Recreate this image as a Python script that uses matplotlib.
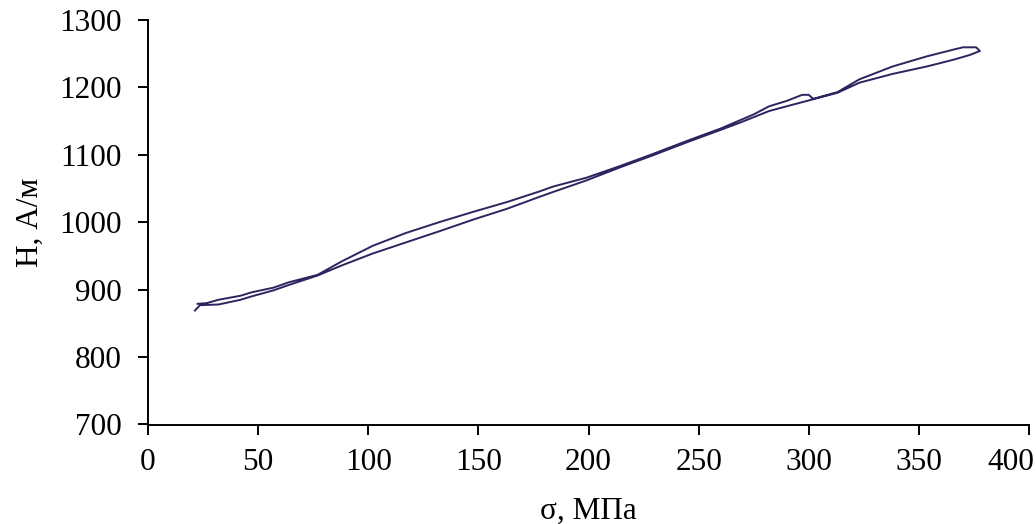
import matplotlib
matplotlib.use("Agg")
import matplotlib.pyplot as plt
from matplotlib.transforms import offset_copy

# Loading branch (sigma, MPa ; H, A/m)
sigma_load = [21.3, 23.6, 32, 42, 47, 57, 64, 77, 88, 102, 117, 132.6, 147.7, 163, 178,
              184, 199, 214, 229, 245, 260, 269, 282, 290, 301.5, 313, 323, 338, 353.5,
              365.6, 373, 377.7]
H_load = [869, 877, 878, 885, 890, 899, 907, 921, 936, 953.6, 970, 987, 1004, 1020, 1038,
          1045, 1062, 1081, 1099, 1119, 1137, 1148, 1165, 1172, 1182, 1192, 1207, 1220, 1231,
          1241, 1248, 1254]

# Unloading branch
sigma_unload = [377.7, 376, 370, 365.6, 353.5, 338, 323, 313, 302, 300, 297, 290, 282, 275,
                260, 245, 229, 214, 199, 184, 178, 163, 147.7, 132.6, 117, 102, 88, 77, 64,
                57, 47, 42, 32, 26.6, 22.5]
H_unload = [1254, 1259.5, 1259.5, 1256, 1246, 1231, 1212, 1193, 1183, 1189, 1189, 1180, 1172,
            1160, 1139, 1121, 1101, 1083, 1066, 1053, 1046, 1030, 1015.5, 1000.5, 984, 965,
            942, 922, 911, 903, 896, 891, 885, 880, 879]

x_ticks = [0, 50, 100, 150, 200, 250, 300, 350, 400]
y_ticks = [700, 800, 900, 1000, 1100, 1200, 1300]

plt.rcParams['font.family'] = ['Liberation Serif', 'DejaVu Serif']

fig = plt.figure(figsize=(10.36, 5.24), dpi=100)
ax = fig.add_axes([148 / 1036, 1 - 424.5 / 524, (1029 - 148) / 1036, (424.5 - 20) / 524])

line_color = '#2f2360'
ax.plot(sigma_load + sigma_unload, H_load + H_unload, color=line_color, lw=1.4,
        solid_joinstyle='round')

ax.set_xlim(0, 400)
ax.set_ylim(700, 1300)
ax.set_xticks(x_ticks)
ax.set_yticks(y_ticks)
ax.spines['top'].set_visible(False)
ax.spines['right'].set_visible(False)
for s in ('left', 'bottom'):
    ax.spines[s].set_linewidth(1.4)
    ax.spines[s].set_color('black')
ax.tick_params(axis='both', direction='out', length=7, width=1.4, labelsize=22.5,
               colors='black')
ax.tick_params(axis='y', pad=12)
ax.tick_params(axis='x', pad=10)

ax.set_ylabel('H, А/м', fontsize=22.5, labelpad=10)
ax.set_xlabel('σ, МПа', fontsize=22.5, labelpad=14)

fig.canvas.draw()
last = ax.get_xticklabels()[-1]
last.set_horizontalalignment('right')
last.set_transform(offset_copy(last.get_transform(), fig=fig, x=5, y=0, units='dots'))

fig.savefig('out.png', dpi=100)
